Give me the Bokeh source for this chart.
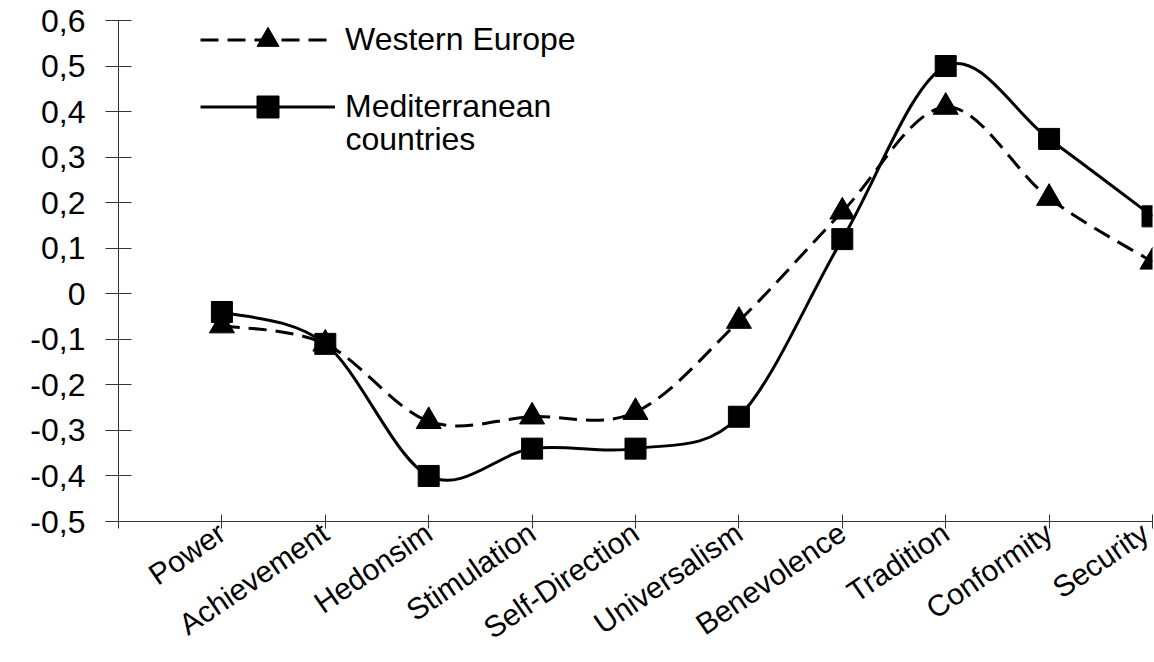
from bokeh.plotting import figure
from bokeh.models import Range1d, FixedTicker, Legend, LegendItem, Label
from bokeh.embed import file_html
from bokeh.resources import INLINE

# ---- data ----
categories = ["Power", "Achievement", "Hedonsim", "Stimulation", "Self-Direction",
              "Universalism", "Benevolence", "Tradition", "Conformity", "Security"]
western_europe = [-0.07, -0.11, -0.28, -0.27, -0.26, -0.06, 0.18, 0.41, 0.21, 0.07]
mediterranean = [-0.04, -0.11, -0.40, -0.34, -0.34, -0.27, 0.12, 0.50, 0.34, 0.17]
y_ticks = [-0.5, -0.4, -0.3, -0.2, -0.1, 0, 0.1, 0.2, 0.3, 0.4, 0.5, 0.6]
y_tick_labels = ["-0,5", "-0,4", "-0,3", "-0,2", "-0,1", "0",
                 "0,1", "0,2", "0,3", "0,4", "0,5", "0,6"]
series_names = ["Western Europe", "Mediterranean", "countries"]

x_pos = list(range(1, len(categories) + 1))

FONT = "Liberation Sans"
FS = "32px"
FS_X = "30px"


def smooth_segments(xs, ys):
    """Cubic Bezier control points (Catmull-Rom style) through the data points."""
    n = len(xs)
    out = dict(x0=[], y0=[], x1=[], y1=[], cx0=[], cy0=[], cx1=[], cy1=[])
    for i in range(n - 1):
        xp, yp = (xs[i - 1], ys[i - 1]) if i > 0 else (xs[i], ys[i])
        xn, yn = (xs[i + 2], ys[i + 2]) if i + 2 < n else (xs[i + 1], ys[i + 1])
        out["x0"].append(xs[i]); out["y0"].append(ys[i])
        out["x1"].append(xs[i + 1]); out["y1"].append(ys[i + 1])
        out["cx0"].append(xs[i] + (xs[i + 1] - xp) / 6.0)
        out["cy0"].append(ys[i] + (ys[i + 1] - yp) / 6.0)
        out["cx1"].append(xs[i + 1] - (xn - xs[i]) / 6.0)
        out["cy1"].append(ys[i + 1] - (yn - ys[i]) / 6.0)
    return out


p = figure(width=1154, height=662, output_backend="svg", toolbar_location=None,
           x_range=Range1d(0, 10), y_range=Range1d(-0.5, 0.6),
           min_border_left=118, min_border_right=2, min_border_top=20, min_border_bottom=141)
p.outline_line_color = None
p.xgrid.visible = False
p.ygrid.visible = False
p.background_fill_color = "white"
p.border_fill_color = "white"

we_seg = smooth_segments(x_pos, western_europe)
md_seg = smooth_segments(x_pos, mediterranean)

we_line = p.bezier(source=we_seg, x0="x0", y0="y0", x1="x1", y1="y1",
                   cx0="cx0", cy0="cy0", cx1="cx1", cy1="cy1",
                   line_color="black", line_width=3, line_dash="18 9")
md_line = p.bezier(source=md_seg, x0="x0", y0="y0", x1="x1", y1="y1",
                   cx0="cx0", cy0="cy0", cx1="cx1", cy1="cy1",
                   line_color="black", line_width=3)
we_pts = p.scatter(x_pos, western_europe, marker="triangle", size=25,
                   fill_color="black", line_color="black")
md_pts = p.scatter(x_pos, mediterranean, marker="square", size=21,
                   fill_color="black", line_color="black")

# axes
p.xaxis.ticker = FixedTicker(ticks=list(range(0, len(categories) + 1)))
p.xaxis.major_label_overrides = {0: "", **{i + 1: c for i, c in enumerate(categories)}}
p.xaxis.major_label_orientation = 0.6
p.xaxis.major_tick_in = 7
p.xaxis.major_tick_out = 7
p.xaxis.minor_tick_line_color = None
p.xaxis.major_label_standoff = 1
p.xaxis.major_label_text_font_size = FS_X

p.yaxis.ticker = FixedTicker(ticks=y_ticks)
p.yaxis.major_label_overrides = {t: l for t, l in zip(y_ticks, y_tick_labels)}
p.yaxis.major_tick_in = 13
p.yaxis.major_tick_out = 13
p.yaxis.minor_tick_line_color = None
p.yaxis.major_label_standoff = 20
p.yaxis.major_label_text_font_size = FS

for ax in (p.xaxis, p.yaxis):
    ax.major_label_text_font = FONT
    ax.major_label_text_color = "black"
    ax.axis_line_color = "#333333"
    ax.major_tick_line_color = "#333333"

legend = Legend(items=[LegendItem(label=series_names[0], renderers=[we_line, we_pts]),
                       LegendItem(label=series_names[1], renderers=[md_line, md_pts])],
                location=(82, 387), padding=0, spacing=12, margin=0,
                glyph_width=135, glyph_height=55, label_standoff=10,
                label_text_font=FONT, label_text_font_size=FS, label_text_color="black",
                border_line_color=None, background_fill_alpha=0)
p.add_layout(legend, "center")

# second line of the legend label (screen units relative to the plot frame)
p.add_layout(Label(x=227, y=383, x_units="screen", y_units="screen",
                   text=series_names[2], text_font=FONT, text_font_size=FS,
                   text_color="black", text_baseline="middle"))

open("out.html", "w").write(file_html(p, INLINE))
